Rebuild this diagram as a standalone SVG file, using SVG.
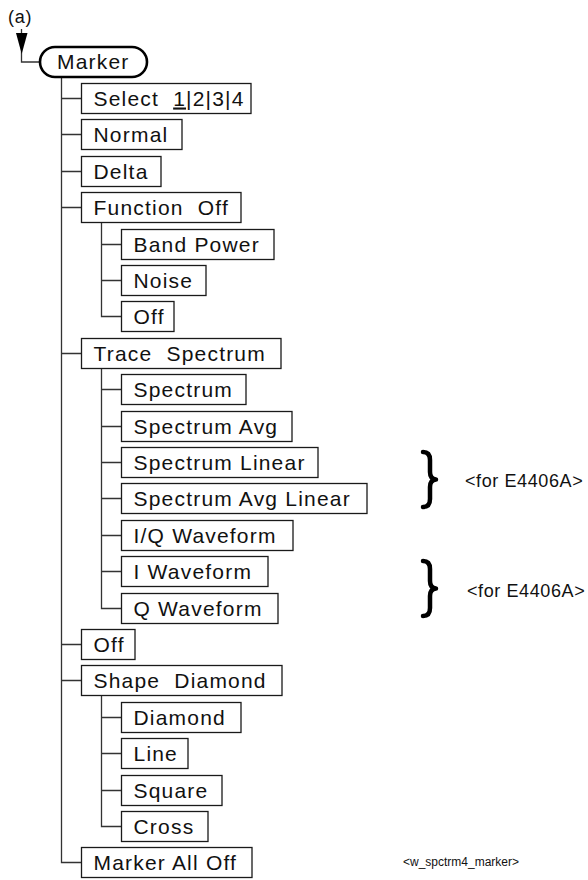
<svg xmlns="http://www.w3.org/2000/svg" width="588" height="880" viewBox="0 0 588 880">
<style>
.box{fill:#fff;stroke:#1a1a1a;stroke-width:1.3}
.pill{fill:#fff;stroke:#000;stroke-width:2.6}
.t{font-family:"Liberation Sans",Arial,sans-serif;font-size:21px;letter-spacing:1.2px;fill:#111}
.c{fill:none;stroke:#333;stroke-width:1.3}
.note{font-family:"Liberation Sans",Arial,sans-serif;font-size:18px;letter-spacing:0.6px;fill:#111}
.brace{fill:none;stroke:#000;stroke-width:4.5;stroke-linecap:round;stroke-linejoin:round}
</style>
<rect width="588" height="880" fill="#fff"/>
<text x="8" y="23" class="t" style="font-size:18px;letter-spacing:0.8px">(a)</text>
<g id="connectors">
<path class="c" d="M21.5 29 V62 H40"/>
<polygon points="16,33 27.5,33 21.7,54" fill="#000"/>
<path class="c" d="M61.5 77 V862.5 H81.5"/>
<path class="c" d="M61.5 98.5 H81.5 M61.5 134.5 H81.5 M61.5 171.5 H81.5 M61.5 207.5 H81.5 M61.5 353.5 H81.5 M61.5 644.5 H81.5 M61.5 680.5 H81.5"/>
<path class="c" d="M101.5 222.5 V316.5 H121.5 M101.5 244.5 H121.5 M101.5 280.5 H121.5"/>
<path class="c" d="M101.5 368.5 V608.5 H121.5 M101.5 389.5 H121.5 M101.5 426.5 H121.5 M101.5 462.5 H121.5 M101.5 498.5 H121.5 M101.5 535.5 H121.5 M101.5 571.5 H121.5"/>
<path class="c" d="M101.5 695.5 V826.5 H121.5 M101.5 717.5 H121.5 M101.5 753.5 H121.5 M101.5 790.5 H121.5"/>
</g>
<g id="marker"><rect class="pill" x="40" y="47" width="107" height="30" rx="15"/><text class="t" x="57" y="69">Marker</text></g>
<g id="select"><rect class="box" x="81.5" y="83.5" width="169.5" height="30"/><text class="t" x="93.5" y="105.5" xml:space="preserve">Select  <tspan text-decoration="underline">1</tspan>|2|3|4</text></g>
<g id="normal"><rect class="box" x="81.5" y="119.5" width="100.5" height="30"/><text class="t" x="93.5" y="141.5">Normal</text></g>
<g id="delta"><rect class="box" x="81.5" y="156.5" width="79.5" height="30"/><text class="t" x="93.5" y="178.5">Delta</text></g>
<g id="function"><rect class="box" x="81.5" y="192.5" width="159.5" height="30"/><text class="t" x="93.5" y="214.5" xml:space="preserve">Function  Off</text></g>
<g id="bandpower"><rect class="box" x="121.5" y="229.5" width="152.5" height="30"/><text class="t" x="133.5" y="251.5">Band Power</text></g>
<g id="noise"><rect class="box" x="121.5" y="265.5" width="84.5" height="30"/><text class="t" x="133.5" y="287.5">Noise</text></g>
<g id="funcoff"><rect class="box" x="121.5" y="301.5" width="52.5" height="30"/><text class="t" x="133.5" y="323.5">Off</text></g>
<g id="trace"><rect class="box" x="81.5" y="338.5" width="199.5" height="30"/><text class="t" x="93.5" y="360.5" xml:space="preserve">Trace  Spectrum</text></g>
<g id="spectrum"><rect class="box" x="121.5" y="374.5" width="124.5" height="30"/><text class="t" x="133.5" y="396.5">Spectrum</text></g>
<g id="spectrumavg"><rect class="box" x="121.5" y="411.5" width="170.5" height="30"/><text class="t" x="133.5" y="433.5">Spectrum Avg</text></g>
<g id="spectrumlinear"><rect class="box" x="121.5" y="447.5" width="196.5" height="30"/><text class="t" x="133.5" y="469.5">Spectrum Linear</text></g>
<g id="spectrumavglinear"><rect class="box" x="121.5" y="483.5" width="245.5" height="30"/><text class="t" x="133.5" y="505.5">Spectrum Avg Linear</text></g>
<g id="iqwaveform"><rect class="box" x="121.5" y="520.5" width="171.5" height="30"/><text class="t" x="133.5" y="542.5">I/Q Waveform</text></g>
<g id="iwaveform"><rect class="box" x="121.5" y="556.5" width="146.5" height="30"/><text class="t" x="133.5" y="578.5">I Waveform</text></g>
<g id="qwaveform"><rect class="box" x="121.5" y="593.5" width="156.5" height="30"/><text class="t" x="133.5" y="615.5">Q Waveform</text></g>
<g id="off"><rect class="box" x="81.5" y="629.5" width="53.5" height="30"/><text class="t" x="93.5" y="651.5">Off</text></g>
<g id="shape"><rect class="box" x="81.5" y="665.5" width="200.5" height="30"/><text class="t" x="93.5" y="687.5" xml:space="preserve">Shape  Diamond</text></g>
<g id="diamond"><rect class="box" x="121.5" y="702.5" width="119.5" height="30"/><text class="t" x="133.5" y="724.5">Diamond</text></g>
<g id="line"><rect class="box" x="121.5" y="738.5" width="66.5" height="30"/><text class="t" x="133.5" y="760.5">Line</text></g>
<g id="square"><rect class="box" x="121.5" y="775.5" width="100.5" height="30"/><text class="t" x="133.5" y="797.5">Square</text></g>
<g id="cross"><rect class="box" x="121.5" y="811.5" width="86.5" height="30"/><text class="t" x="133.5" y="833.5">Cross</text></g>
<g id="markeralloff"><rect class="box" x="81.5" y="847.5" width="170.5" height="30"/><text class="t" x="93.5" y="869.5">Marker All Off</text></g>
<g id="note1">
<path class="brace" d="M423 452 Q430 452 430 460 V472 Q430 479 436 479.5 Q430 480 430 487 V499 Q430 507 423 507"/>
<text class="note" x="465" y="487">&lt;for E4406A&gt;</text>
</g>
<g id="note2">
<path class="brace" d="M423 561 Q430 561 430 569 V581 Q430 588 436 588.5 Q430 589 430 596 V608 Q430 616 423 616"/>
<text class="note" x="467" y="597">&lt;for E4406A&gt;</text>
</g>
<text x="403" y="866" style="font-family:'Liberation Sans',Arial,sans-serif;font-size:12px;fill:#111">&lt;w_spctrm4_marker&gt;</text>
</svg>
